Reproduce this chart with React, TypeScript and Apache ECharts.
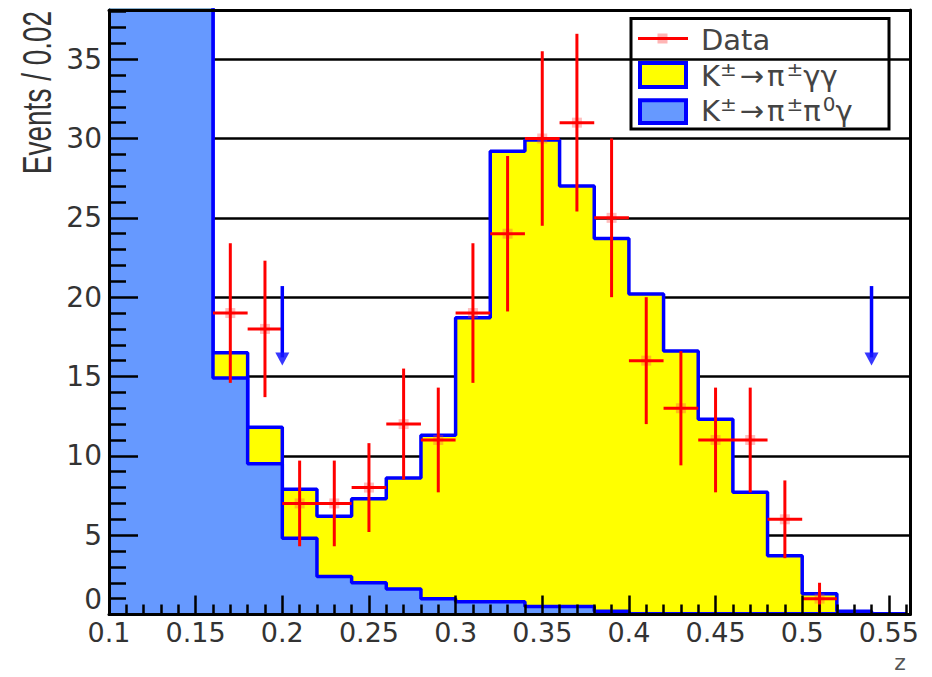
import React, { useEffect, useRef } from 'react';
import * as echarts from 'echarts';

// ---- axis ranges ----
const X_MIN = 0.1;
const X_MAX = 0.5622;
const X_STEP = 0.05;
const Y_MIN = 0;
const Y_MAX = 38.1;
const Y_STEP = 5;

// ---- histogram bins (low edges, width 0.02) ----
const binLowEdges = [0.10, 0.12, 0.14, 0.16, 0.18, 0.20, 0.22, 0.24, 0.26, 0.28, 0.30, 0.32, 0.34, 0.36, 0.38, 0.40, 0.42, 0.44, 0.46, 0.48, 0.50, 0.52, 0.54];
const binWidth = 0.02;
// K± → π± π0 γ background (first three bins are off scale)
const bkgPiPi0Gamma = [95, 70, 50, 14.9, 9.5, 4.8, 2.4, 2.0, 1.6, 1.0, 0.8, 0.8, 0.5, 0.5, 0.2, 0.05, 0.05, 0.05, 0.05, 0.05, 0.05, 0.05, 0.05];
// top of the stacked MC (K± → π± γγ on top of background)
const mcStackTop = [95, 70, 50, 16.5, 11.8, 7.9, 6.2, 7.3, 8.6, 11.3, 18.7, 29.2, 29.9, 27.0, 23.7, 20.2, 16.6, 12.3, 7.7, 3.7, 1.3, 0.2, 0.05];

// ---- data points ----
const dataZ = [0.17, 0.19, 0.21, 0.23, 0.25, 0.27, 0.29, 0.31, 0.33, 0.35, 0.37, 0.39, 0.41, 0.43, 0.45, 0.47, 0.49, 0.51];
const dataEvents = [19, 18, 7, 7, 8, 12, 11, 19, 24, 30, 31, 25, 16, 13, 11, 11, 6, 1];
const dataErr = [4.4, 4.3, 2.7, 2.7, 2.8, 3.5, 3.3, 4.4, 4.9, 5.5, 5.6, 5.0, 4.0, 3.6, 3.3, 3.3, 2.45, 1.0];

// ---- cut arrows ----
const arrowZ = [0.2, 0.54];
const arrowFrom = [20.7, 20.7];
const arrowTo = [15.7, 15.7];

const BLUE = '#0000ff';
const BKG_FILL = '#6699ff';
const SIG_FILL = '#ffff00';
const RED = '#ff0000';
const TEXT = '#333333';

function stepData(edges: number[], vals: number[]) {
  const pts = edges.map((x, i) => [x, vals[i]]);
  pts.push([edges[edges.length - 1] + binWidth, vals[vals.length - 1]]);
  return pts;
}

export default function App() {
  const ref = useRef<HTMLDivElement>(null);

  useEffect(() => {
    if (!ref.current) return;
    const chart = echarts.init(ref.current, undefined, { renderer: 'svg' });

    const frameLine = { color: '#000', width: 3 };
    const yLab = { fontFamily: 'DejaVu Sans', fontSize: 28, lineHeight: 16, color: TEXT };

    const option: any = {
      animation: false,
      backgroundColor: '#ffffff',
      grid: { left: 109, right: 22, top: 10, bottom: 62.5, containLabel: false, show: false },
      xAxis: [
        {
          type: 'value', min: X_MIN, max: X_MAX, interval: X_STEP, position: 'bottom', z: 10,
          axisLine: { show: true, onZero: false, lineStyle: frameLine },
          axisTick: { show: true, inside: true, length: 19, lineStyle: { color: '#000', width: 2.5 } },
          minorTick: { show: true, splitNumber: 5, length: 10, lineStyle: { color: '#000', width: 2.5 } },
          axisLabel: { show: true, margin: 7, lineHeight: 22, fontFamily: 'DejaVu Sans', fontSize: 27, color: TEXT, showMaxLabel: false },
          splitLine: { show: false }, minorSplitLine: { show: false },
        },
        {
          type: 'value', min: X_MIN, max: X_MAX, interval: X_STEP, position: 'top', z: 10,
          axisLine: { show: true, onZero: false, lineStyle: frameLine },
          axisTick: { show: false }, axisLabel: { show: false }, splitLine: { show: false },
        },
      ],
      yAxis: [
        {
          type: 'value', min: Y_MIN, max: Y_MAX, interval: Y_STEP, position: 'left', z: 0,
          axisLine: { show: false }, axisTick: { show: false }, axisLabel: { show: false },
          splitLine: { show: true, lineStyle: { color: '#000', width: 2.5 } },
        },
        {
          type: 'value', min: Y_MIN, max: Y_MAX, interval: Y_STEP, position: 'left', z: 10,
          axisLine: { show: true, onZero: false, lineStyle: frameLine },
          axisTick: { show: true, inside: true, length: 29, lineStyle: { color: '#000', width: 2.5 } },
          minorTick: { show: true, splitNumber: 5, length: 17, lineStyle: { color: '#000', width: 2.5 } },
          axisLabel: {
            show: true, margin: 7, showMaxLabel: false, ...yLab,
            formatter: (v: number) => (v === 0 ? '{z|0}' : '{n|' + v + '}'),
            rich: {
              n: { ...yLab },
              z: { ...yLab, padding: [0, 0, 30, 0] },
            },
          },
          splitLine: { show: false },
        },
        {
          type: 'value', min: Y_MIN, max: Y_MAX, interval: Y_STEP, position: 'right', z: 10,
          axisLine: { show: true, onZero: false, lineStyle: frameLine },
          axisTick: { show: false }, axisLabel: { show: false }, splitLine: { show: false },
        },
      ],
      series: [
        {
          name: 'K±→π±γγ',
          type: 'line', step: 'end', symbol: 'none', showSymbol: false, z: 2,
          data: stepData(binLowEdges, mcStackTop),
          lineStyle: { color: BLUE, width: 3.5 },
          areaStyle: { color: SIG_FILL, opacity: 1 },
        },
        {
          name: 'K±→π±π0γ',
          type: 'line', step: 'end', symbol: 'none', showSymbol: false, z: 3,
          data: stepData(binLowEdges, bkgPiPi0Gamma),
          lineStyle: { color: BLUE, width: 3.5 },
          areaStyle: { color: BKG_FILL, opacity: 1 },
        },
        {
          name: 'Data',
          type: 'custom', z: 5,
          data: dataZ.map((z, i) => [z, dataEvents[i], dataErr[i]]),
          encode: { x: 0, y: 1 },
          renderItem: (params: any, api: any) => {
            const x = api.value(0);
            const y = api.value(1);
            const e = api.value(2);
            const c = api.coord([x, y]);
            const l = api.coord([x - binWidth / 2, y]);
            const r = api.coord([x + binWidth / 2, y]);
            const t = api.coord([x, y + e]);
            const b = api.coord([x, Math.max(0, y - e)]);
            return {
              type: 'group',
              children: [
                { type: 'rect', shape: { x: c[0] - 5, y: c[1] - 5, width: 10, height: 10 }, style: { fill: 'rgba(255,70,70,0.35)' } },
                { type: 'line', shape: { x1: l[0], y1: l[1], x2: r[0], y2: r[1] }, style: { stroke: RED, lineWidth: 3 } },
                { type: 'line', shape: { x1: t[0], y1: t[1], x2: b[0], y2: b[1] }, style: { stroke: RED, lineWidth: 3 } },
              ],
            };
          },
        },
        {
          name: 'cuts',
          type: 'custom', z: 6,
          data: arrowZ.map((z, i) => [z, arrowFrom[i], arrowTo[i]]),
          encode: { x: 0, y: 1 },
          renderItem: (params: any, api: any) => {
            const x = api.value(0);
            const top = api.coord([x, api.value(1)]);
            const tip = api.coord([x, api.value(2)]);
            return {
              type: 'group',
              children: [
                { type: 'line', shape: { x1: top[0], y1: top[1], x2: tip[0], y2: tip[1] - 8 }, style: { stroke: BLUE, lineWidth: 3.5 } },
                {
                  type: 'polygon',
                  shape: { points: [[tip[0] - 7, tip[1] - 13], [tip[0] + 7, tip[1] - 13], [tip[0], tip[1]]] },
                  style: { fill: 'rgba(20,20,255,0.85)' },
                },
              ],
            };
          },
        },
      ],
      graphic: [
        {
          type: 'text', x: 36, y: 92.5, rotation: Math.PI / 2, scaleY: 1.45, z: 100,
          style: { text: 'Events / 0.02', fontFamily: 'Liberation Sans', fontSize: 28, fill: TEXT, align: 'center', verticalAlign: 'middle' },
        },
        {
          type: 'text', x: 900, y: 662, z: 100,
          style: { text: 'z', fontFamily: 'DejaVu Sans', fontSize: 22, lineHeight: 16, fill: '#555', align: 'center', verticalAlign: 'middle' },
        },
        {
          type: 'group', z: 100,
          children: [
            { type: 'rect', shape: { x: 631, y: 18.5, width: 258, height: 110.5 }, style: { fill: '#fff', stroke: '#000', lineWidth: 3 } },
            { type: 'rect', shape: { x: 657.5, y: 33.5, width: 10, height: 10 }, style: { fill: 'rgba(255,70,70,0.4)' } },
            { type: 'line', shape: { x1: 638, y1: 38.5, x2: 688, y2: 38.5 }, style: { stroke: RED, lineWidth: 3 } },
            {
              type: 'text', x: 701, y: 40,
              style: { text: 'Data', fontFamily: 'DejaVu Sans', fontSize: 29, fill: '#444', align: 'left', verticalAlign: 'middle' },
            },
            { type: 'rect', shape: { x: 640, y: 63, width: 46, height: 24 }, style: { fill: SIG_FILL, stroke: BLUE, lineWidth: 4 } },
            {
              type: 'text', x: 701, y: 76,
              style: {
                text: '{b|K}{s|±}{a|→}{p|π}{s|±}{b|γγ}',
                align: 'left', verticalAlign: 'middle',
                rich: {
                  b: { fontFamily: 'DejaVu Sans', fontSize: 29, lineHeight: 34, fill: '#444' },
                  a: { fontFamily: 'DejaVu Sans', fontSize: 29, lineHeight: 34, fill: '#444', padding: [0, 3, 0, 3] },
                  p: { fontFamily: 'DejaVu Sans', fontSize: 29, lineHeight: 34, fill: '#444', padding: [0, 2, 0, 0] },
                  s: { fontFamily: 'DejaVu Sans', fontSize: 20, lineHeight: 20, fill: '#444', verticalAlign: 'top' },
                },
              },
            },
            { type: 'rect', shape: { x: 640, y: 100.3, width: 46, height: 22.7 }, style: { fill: BKG_FILL, stroke: BLUE, lineWidth: 4 } },
            {
              type: 'text', x: 701, y: 111,
              style: {
                text: '{b|K}{s|±}{a|→}{p|π}{s|±}{p|π}{s|0}{b|γ}',
                align: 'left', verticalAlign: 'middle',
                rich: {
                  b: { fontFamily: 'DejaVu Sans', fontSize: 29, lineHeight: 34, fill: '#444' },
                  a: { fontFamily: 'DejaVu Sans', fontSize: 29, lineHeight: 34, fill: '#444', padding: [0, 3, 0, 3] },
                  p: { fontFamily: 'DejaVu Sans', fontSize: 29, lineHeight: 34, fill: '#444', padding: [0, 2, 0, 0] },
                  s: { fontFamily: 'DejaVu Sans', fontSize: 20, lineHeight: 20, fill: '#444', verticalAlign: 'top' },
                },
              },
            },
          ],
        },
      ],
    };

    chart.setOption(option);
    return () => {
      chart.dispose();
    };
  }, []);

  return (
    <div
      ref={ref}
      style={{ position: 'absolute', left: 0, top: 0, width: 932, height: 677, background: '#fff' }}
    />
  );
}
